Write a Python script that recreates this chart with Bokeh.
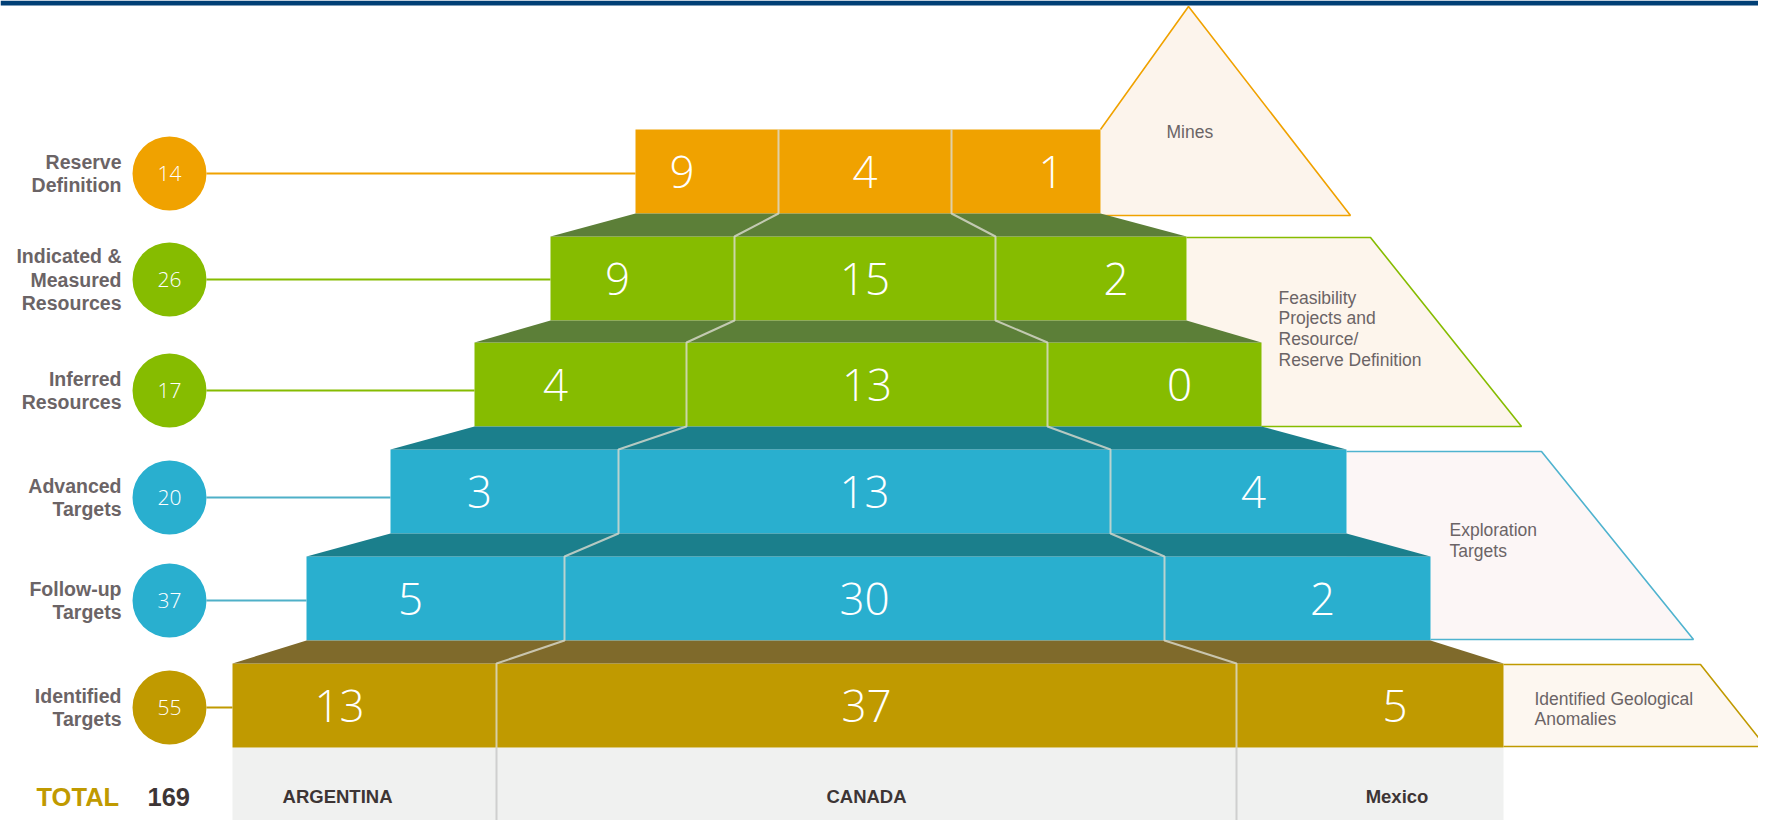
from bokeh.plotting import figure
from bokeh.models import Range1d
from bokeh.core.properties import value
from bokeh.embed import file_html
from bokeh.resources import INLINE

# ---------------- data ----------------
stages = ["Reserve\nDefinition", "Indicated &\nMeasured\nResources", "Inferred\nResources",
          "Advanced\nTargets", "Follow-up\nTargets", "Identified\nTargets"]
countries = ["ARGENTINA", "CANADA", "Mexico"]
argentina = [9, 9, 4, 3, 5, 13]
canada = [4, 15, 13, 13, 30, 37]
mexico = [1, 2, 0, 4, 2, 5]
phases = ["Mines", "Feasibility\nProjects and\nResource/\nReserve Definition",
          "Exploration\nTargets", "Identified Geological\nAnomalies"]

totals = [a + c + m for a, c, m in zip(argentina, canada, mexico)]
grand_total = sum(totals)

# ---------------- layout (pixel space of the infographic) ----------------
FW, FH = 1758, 820          # figure size in px; 1 data unit = 1 px
H = 836                     # nominal bottom of the infographic
row_top = [129, 236, 342, 449, 556, 663]
FACE = 84
row_left = [635, 550, 474, 390, 306, 232]
row_right = [1100, 1186, 1261, 1346, 1430, 1503]
div1 = [778, 734, 686, 618, 564, 496]
div2 = [951, 995, 1047, 1110, 1164, 1236]
circle_x, circle_r = 169, 37
circle_y = [173, 279, 390, 497, 600, 707]
front_col = ["#f0a200", "#86bc00", "#86bc00", "#29afcf", "#29afcf", "#c09a00"]
top_col = [None, "#5c7f38", "#5c7f38", "#1b7f8c", "#1b7f8c", "#7f6a2b"]
link_col = ["#f0a200", "#86bc00", "#86bc00", "#4fb0c8", "#4fb0c8", "#c09a00"]
circ_col = ["#f0a200", "#86bc00", "#86bc00", "#29afcf", "#29afcf", "#c09a00"]
band_top = 747

phase_fill = ["#fcf4ec", "#fdf5ec", "#fcf6f6", "#fdf7f0"]
phase_line = ["#f0a200", "#86bc00", "#4fb3cf", "#c09a00"]
phase_poly = [
    ([1100, 1188, 1350, 1100], [129, 6, 215, 215]),
    ([1186, 1370, 1521, 1186], [237, 237, 426, 426]),
    ([1346, 1541, 1693, 1346], [451, 451, 639, 639]),
    ([1503, 1700, 1765, 1503], [664, 664, 746, 746]),
]
phase_outline = [
    ([1100, 1188, 1350, 1100], [129, 6, 215, 215]),
    ([1186, 1370, 1521, 1261], [237, 237, 426, 426]),
    ([1346, 1541, 1693, 1430], [451, 451, 639, 639]),
    ([1503, 1700, 1765, 1503], [664, 664, 746, 746]),
]
phase_text_pos = [(1166, 131, 20.7), (1278, 297, 20.7), (1449, 529, 21), (1534, 698, 20)]

GRAY = "#6b6466"
DARK = "#3d3535"
SANS = value("Liberation Sans")
NUMF = value("Open Sans Light, Open Sans")

p = figure(width=FW, height=FH, x_range=Range1d(0, FW), y_range=Range1d(FH, 0),
           output_backend="svg", toolbar_location=None, min_border=0)
p.axis.visible = False
p.grid.visible = False
p.outline_line_color = None
p.background_fill_color = "white"
p.border_fill_color = "white"

# top banner
p.quad(left=[0], right=[FW], top=[0], bottom=[5], color="#003f75", line_color=None)

# phase shapes on the right
for (xs, ys), fc in zip(phase_poly, phase_fill):
    p.patch(xs, ys, fill_color=fc, line_color=None)
for (xs, ys), lc in zip(phase_outline, phase_line):
    p.line(xs, ys, line_color=lc, line_width=1.6)

# bottom grey band
p.quad(left=[row_left[5]], right=[row_right[5]], top=[band_top], bottom=[H],
       color="#f0f1f0", line_color=None)

# pyramid rows
for i in range(6):
    t = row_top[i]
    p.quad(left=[row_left[i]], right=[row_right[i]], top=[t], bottom=[t + FACE],
           color=front_col[i], line_color=None)
    if i > 0:
        tb = row_top[i - 1] + FACE
        p.patch([row_left[i], row_right[i], row_right[i - 1], row_left[i - 1]],
                [t, t, tb, tb], fill_color=top_col[i], line_color=None)

# dividers between countries
for d in (div1, div2):
    xs, ys = [], []
    for i in range(6):
        xs += [d[i], d[i]]
        ys += [row_top[i], row_top[i] + FACE]
    p.line(xs, ys, line_color="#dcdccf", line_width=2, line_alpha=0.8)
    p.line([d[5], d[5]], [band_top, H], line_color="#cfcfcf", line_width=2)

# numbers in the bars
for i in range(6):
    yc = row_top[i] + FACE / 2
    xa = (row_left[i] + div1[i]) / 2 - 25
    xc = (div1[i] + div2[i]) / 2
    xm = (div2[i] + row_right[i]) / 2 + 25
    p.text(x=[xa, xc, xm], y=[yc] * 3,
           text=[str(argentina[i]), str(canada[i]), str(mexico[i])],
           text_color="white", text_font=NUMF, text_font_size="44px",
           text_align="center", text_baseline="middle")

# connectors, circles, stage labels
for i in range(6):
    cy = circle_y[i]
    p.line([circle_x + circle_r, row_left[i]], [cy, cy], line_color=link_col[i], line_width=2.2)
p.scatter(x=[circle_x] * 6, y=circle_y, size=2 * circle_r, marker="circle",
          fill_color=circ_col, line_color=None)
p.text(x=[circle_x] * 6, y=circle_y, text=[str(t) for t in totals],
       text_color="white", text_font=NUMF, text_font_size="21px",
       text_align="center", text_baseline="middle")

LH = 23.3
for i, lab in enumerate(stages):
    lines = lab.split("\n")
    n = len(lines)
    ys = [circle_y[i] + (k - (n - 1) / 2) * LH for k in range(n)]
    p.text(x=[121] * n, y=ys, text=lines, text_color=GRAY, text_font=SANS,
           text_font_style="bold", text_font_size="19.5px",
           text_align="right", text_baseline="middle")

# phase labels
for lab, (x0, y0, lh) in zip(phases, phase_text_pos):
    lines = lab.split("\n")
    p.text(x=[x0] * len(lines), y=[y0 + k * lh for k in range(len(lines))], text=lines,
           text_color=GRAY, text_font=SANS, text_font_size="17.5px",
           text_align="left", text_baseline="middle")

# bottom: totals and countries
yb = 796
p.text(x=[36], y=[yb], text=["TOTAL"], text_color="#c09a00", text_font=SANS,
       text_font_style="bold", text_font_size="25.5px", text_align="left", text_baseline="middle")
p.text(x=[147], y=[yb], text=[str(grand_total)], text_color=DARK, text_font=SANS,
       text_font_style="bold", text_font_size="25.5px", text_align="left", text_baseline="middle")
cx = [(row_left[5] + div1[5]) / 2 - 27, (div1[5] + div2[5]) / 2, (div2[5] + row_right[5]) / 2 + 27]
p.text(x=cx, y=[yb] * 3, text=countries, text_color=DARK, text_font=SANS,
       text_font_style="bold", text_font_size="18.5px", text_align="center", text_baseline="middle")

open("out.html", "w").write(file_html(p, INLINE))
